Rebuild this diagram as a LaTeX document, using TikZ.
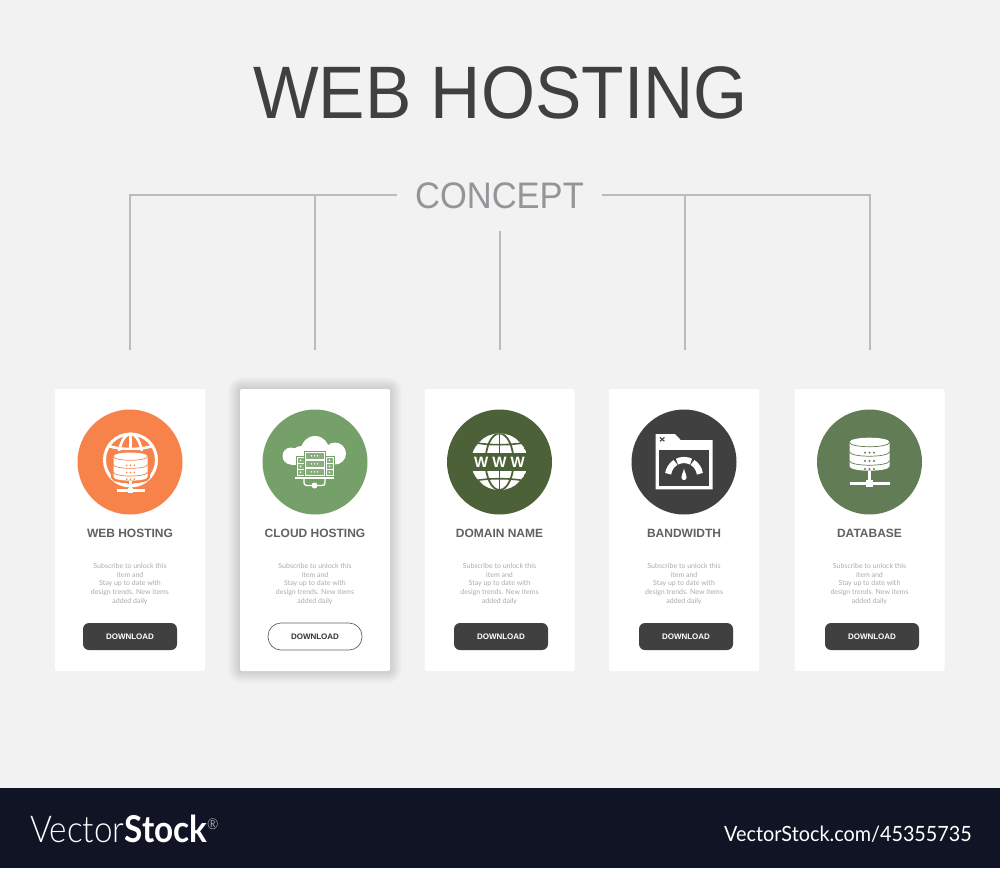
\documentclass[tikz,border=0pt]{standalone}
\usepackage{fontspec}
\setmainfont{Liberation Sans}
\newfontfamily\latofont{Lato}
\newfontfamily\latolight{Lato Light}
\definecolor{pagegray}{HTML}{F2F2F2}
\definecolor{stemgray}{HTML}{BBBBBB}
\definecolor{inkdark}{HTML}{404040}
\definecolor{inkmid}{HTML}{616161}
\definecolor{inklight}{HTML}{ABABAB}
\definecolor{conceptgray}{HTML}{939598}
\definecolor{footnavy}{HTML}{111425}
\definecolor{hostorange}{HTML}{F8834A}
\definecolor{cloudgreen}{HTML}{76A06A}
\definecolor{domaingreen}{HTML}{4C6137}
\definecolor{basegreen}{HTML}{627C55}
\newcommand{\fpx}[1]{\fontsize{#1}{#1}\selectfont}
\newcommand{\blurb}{Subscribe to unlock this\\item and\\Stay up to date with\\design trends. New items\\added daily}
\tikzset{
  x=1pt, y=-1pt,
  stem/.style={stemgray, line width=2pt},
  cardbox/.style={fill=white, rounded corners=2pt, minimum width=150pt, minimum height=282pt, inner sep=0pt},
  badge/.style={circle, minimum size=105pt, inner sep=0pt},
  cardtitle/.style={font=\bfseries\fpx{12}, text=inkmid, inner sep=0pt},
  cardtext/.style={font=\latofont\fontsize{7}{8.7}\selectfont, text=inklight, align=center, inner sep=0pt},
  btnfull/.style={fill=inkdark, text=white, rounded corners=6pt, minimum width=94pt, minimum height=27pt, font=\bfseries\fpx{8}, inner sep=0pt},
  btnline/.style={draw=inkmid, line width=.7pt, fill=white, text=black!80, rounded corners=13pt, minimum width=94pt, minimum height=27pt, font=\bfseries\fpx{8}, inner sep=0pt},
  pics/dbstack/.style={code={
    \draw[#1, line width=5pt] (-20,-19.5) -- (-20,4.5) .. controls (-20,10.5) and (20,10.5) .. (20,4.5) -- (20,-19.5) .. controls (20,-25.5) and (-20,-25.5) .. (-20,-19.5) -- cycle;
    \fill[white] (-20,-19.5) -- (-20,4.5) .. controls (-20,10.5) and (20,10.5) .. (20,4.5) -- (20,-19.5) .. controls (20,-25.5) and (-20,-25.5) .. (-20,-19.5) -- cycle;
    \foreach \sy in {-19.5,-10,-1}
      \draw[#1, line width=.7pt] (-20,\sy) .. controls (-20,\sy+6) and (20,\sy+6) .. (20,\sy);
    \foreach \dy in {-9,-.7,7.3}
      \foreach \dx in {-4.5,0,4.5}
        \fill[#1] (\dx,\dy) circle (1.05);
  }},
  pics/netfoot/.style={code={
    \draw[white, line width=2.2pt] (-20,0) -- (20,0);
    \draw[white, line width=2.2pt] (0,-13) -- (0,0);
    \fill[white] (-3.4,-3.4) rectangle (3.4,3.4);
  }},
  pics/wireglobe/.style={code={
    \draw[white, line width=3pt] (0,-2) circle (26);
    \draw[white, line width=2.6pt] (0,-28) -- (0,4);
    \draw[white, line width=2.6pt] (0,-2) ellipse (12 and 26);
    \draw[white, line width=2.6pt] (-22,-16) .. controls (-10,-12) and (10,-12) .. (22,-16);
  }},
  pics/cloudrack/.style={code={
    \fill[white] (0,-12) circle (14);
    \fill[white] (-14,-7) circle (9);
    \fill[white] (-24,-6) circle (8.5);
    \fill[white] (20,-8.5) circle (11);
    \fill[white] (-24,-6) rectangle (20,2.5);
    \foreach \tx/\ty/\tw in {-19/-6/8.5,10/-6/9,-11/-11/21}
      \draw[#1, line width=.8pt, fill=white] (\tx,\ty) rectangle ({\tx+\tw},14.5);
    \foreach \ry in {-9,-1,7} {
      \fill[#1!85!white] (-9.5,\ry) rectangle (8.5,{\ry+5.8});
      \foreach \dx in {-3.5,-.5,2.5}
        \fill[white] (\dx,{\ry+2.9}) circle (.8);
    }
    \foreach \tx in {-17.5,11.5}
      \foreach \ry in {-4,2,8} {
        \fill[#1!85!white] (\tx,\ry) rectangle ({\tx+6},{\ry+4.5});
        \fill[white] ({\tx+3},{\ry+2.2}) circle (.8);
      }
    \draw[white, line width=1.6pt] (-20,16) -- (19,16);
    \draw[white, line width=1.3pt] (-11,16) -- (-11,20) .. controls (-11,23.5) and (-9,23.5) .. (-7,23.5) -- (6,23.5) .. controls (8,23.5) and (10,23.5) .. (10,20) -- (10,16);
    \fill[white] (-.5,23.5) circle (3);
  }},
  pics/wwwglobe/.style={code={
    \begin{scope}
      \clip (0,0) circle (28.3);
      \fill[white] (0,0) circle (28.3);
      \draw[#1, line width=1.8pt] (0,-29) -- (0,29);
      \draw[#1, line width=1.8pt] (0,0) ellipse (14 and 28.3);
      \draw[#1, line width=1.6pt] (-30,-20) .. controls (-12,-16) and (12,-16) .. (30,-20);
      \draw[#1, line width=1.6pt] (-30,20) .. controls (-12,16) and (12,16) .. (30,20);
      \draw[#1, line width=3pt] (-14,-28) -- (-29,-12);
      \draw[#1, line width=3pt] (14,-28) -- (29,-12);
      \draw[#1, line width=3pt] (-14,28) -- (-29,12);
      \draw[#1, line width=3pt] (14,28) -- (29,12);
    \end{scope}
    \fill[#1] (-29.5,-8.5) rectangle (29.5,9);
    \node[text=white, font=\bfseries\fpx{15}, inner sep=0pt] (wwwmark) at (0,.3) {W W W};
  }},
  pics/gaugewin/.style={code={
    \fill[white] (-28.3,-27.7) -- (-9,-27.7) -- (-3.3,-21.7) -- (28.7,-21.7) -- (28.7,27.6) -- (-28.3,27.6) -- cycle;
    \fill[#1] (-24.7,-11.7) rectangle (24.7,24);
    \draw[#1, line width=1.1pt] (-24,-24.3) -- (-19.6,-20.4);
    \draw[#1, line width=1.1pt] (-24,-20.4) -- (-19.6,-24.3);
    \foreach \from/\to in {-8/-58,-64/-116,-122/-172}
      \draw[white, line width=6.2pt] ([shift={(0,14.3)}]\from:16) arc (\from:\to:16);
    \fill[white] (0,6.7) .. controls (.6,11) and (2.6,12.5) .. (2.6,15.7) .. controls (2.6,19.2) and (-2.6,19.2) .. (-2.6,15.7) .. controls (-2.6,12.5) and (-.6,11) .. (0,6.7) -- cycle;
  }}
}
\begin{document}
\begin{tikzpicture}
  \fill[pagegray] (0,0) rectangle (1000,868);
  \useasboundingbox (0,0) rectangle (1000,868);
  \fill[footnavy] (0,788) rectangle (1000,868);

  \node[font=\fpx{69.5}, text=inkdark, inner sep=0pt] (title) at (500.5,92.5) {\scalebox{1}[1.07]{WEB HOSTING}};
  \node[font=\fpx{34.5}, text=conceptgray, minimum width=205pt, minimum height=70pt, inner sep=0pt] (concept) at (499.5,195.3) {\raisebox{-.7pt}{\scalebox{1}[1.07]{CONCEPT}}};

  % branches
  \coordinate (bendA) at (130,195.3);
  \coordinate (bendB) at (315,195.3);
  \coordinate (bendD) at (685,195.3);
  \coordinate (bendE) at (870,195.3);
  \coordinate (dropA) at (130,350);
  \coordinate (dropB) at (315,350);
  \coordinate (dropC) at (499.5,350);
  \coordinate (dropD) at (685,350);
  \coordinate (dropE) at (870,350);
  \draw[stem] (concept.west) -- (bendA) -- (dropA);
  \draw[stem] (bendB) -- (dropB);
  \draw[stem] (concept.south) -- (dropC);
  \draw[stem] (concept.east) -- (bendE) -- (dropE);
  \draw[stem] (bendD) -- (dropD);

  % soft edge round the raised card
  \foreach \s in {1,...,12}
    \fill[black, opacity=.012, rounded corners={(\s+2)*1pt}] ({240-\s},{389-\s}) rectangle ({390+\s},{671+\s});

  \foreach \id/\cx/\bx/\bg/\head in {a/130/130/hostorange/WEB HOSTING,b/315/315/cloudgreen/CLOUD HOSTING,c/499.5/501/domaingreen/DOMAIN NAME,d/684/686/inkdark/BANDWIDTH,e/869.5/872/basegreen/DATABASE} {
    \node[cardbox] (card\id) at (\cx,530) {};
    \node[badge, fill=\bg] (badge\id) at (\cx,462) {};
    \node[cardtitle] (head\id) at (\cx,533.5) {\head};
    \node[cardtext] (text\id) at (\cx,584) {\blurb};
  }
  \node[btnfull] (btna) at (130,636.5) {DOWNLOAD};
  \node[btnline] (btnb) at (315,636.5) {DOWNLOAD};
  \node[btnfull] (btnc) at (501,636.5) {DOWNLOAD};
  \node[btnfull] (btnd) at (686,636.5) {DOWNLOAD};
  \node[btnfull] (btne) at (872,636.5) {DOWNLOAD};

  % icons
  \pic at (130.5,462) {wireglobe};
  \pic[scale=.85] at (130.5,473) {dbstack=hostorange};
  \pic[scale=.7] at (130.5,490.5) {netfoot};
  \pic at (315,462) {cloudrack=cloudgreen};
  \pic at (499.5,461.7) {wwwglobe=domaingreen};
  \pic at (684,461.7) {gaugewin=inkdark};
  \pic at (869.5,461.7) {dbstack=basegreen};
  \pic at (869.5,483.5) {netfoot};

  % footer
  \node[text=white, anchor=west, inner sep=0pt, xscale=.9] (logo) at (30,829) {\fpx{37}{\latolight Vector}{\latofont\bfseries Stock}\raisebox{13pt}{\latolight\fpx{15}®}};
  \node[text=white, anchor=east, inner sep=0pt, xscale=.943] (stockid) at (972,834) {\latofont\fpx{21}VectorStock.com/45355735};
\end{tikzpicture}
\end{document}
